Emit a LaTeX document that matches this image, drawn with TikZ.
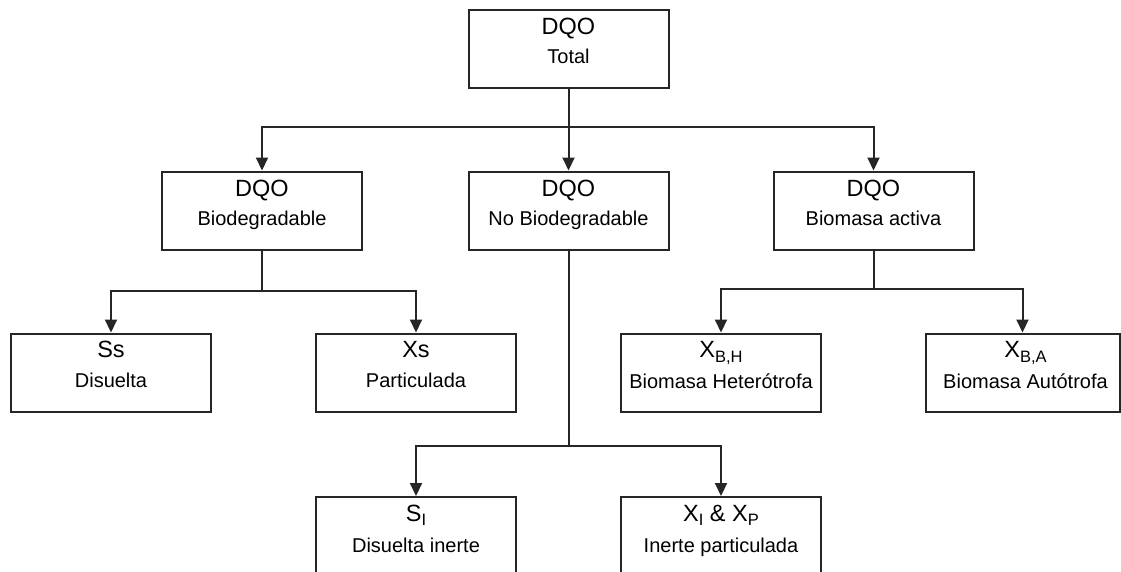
\documentclass[tikz,border=0pt]{standalone}
\usepackage{fontspec}
\setmainfont{Liberation Sans}
\usetikzlibrary{arrows.meta,calc}
\newcommand{\subtx}[1]{\raisebox{-4.5pt}{\fontsize{16.5}{16.5}\selectfont #1}}
\begin{document}
\begin{tikzpicture}[x=1pt,y=-1pt]
\tikzset{
  box/.style={draw=black!85, line width=2pt, minimum width=200pt, minimum height=78pt, inner sep=0pt, fill=white},
  bigtxt/.style={font=\fontsize{23.5}{23.5}\selectfont, anchor=base, inner sep=0pt, text=black},
  smalltxt/.style={font=\fontsize{20}{20}\selectfont, anchor=base, inner sep=0pt, text=black},
  link/.style={draw=black!85, line width=2pt},
  arr/.style={link, -{Triangle[length=13pt,width=12pt]}}
}
\useasboundingbox (0,0) rectangle (1121,571);
\clip (0,0) rectangle (1121,571);
\fill[white] (0,0) rectangle (1121,571);

% boxes
\node[box] (tot) at (568.5,48.5) {};
\node[box] (bio) at (262,210.5) {};
\node[box] (nob) at (568.5,210.5) {};
\node[box] (act) at (873.5,210.5) {};
\node[box] (ss)  at (111,372.5) {};
\node[box] (xs)  at (416,372.5) {};
\node[box] (xbh) at (721,372.5) {};
\node[box, minimum width=194pt] (xba) at (1022.5,372.5) {};
\node[box] (si)  at (416,536) {};
\node[box] (xi)  at (721,536) {};

% texts
\node[bigtxt]   (totA) at ($(tot.north)+(0,26)$) {DQO};
\node[smalltxt] (totB) at ($(tot.north)+(0,55)$) {Total};
\node[bigtxt]   (bioA) at ($(bio.north)+(0,26)$) {DQO};
\node[smalltxt] (bioB) at ($(bio.north)+(0,55)$) {Biodegradable};
\node[bigtxt]   (nobA) at ($(nob.north)+(0,26)$) {DQO};
\node[smalltxt] (nobB) at ($(nob.north)+(0,55)$) {No Biodegradable};
\node[bigtxt]   (actA) at ($(act.north)+(0,26)$) {DQO};
\node[smalltxt] (actB) at ($(act.north)+(0,55)$) {Biomasa activa};
\node[bigtxt]   (ssA) at ($(ss.north)+(0,25)$) {Ss};
\node[smalltxt] (ssB) at ($(ss.north)+(0,55)$) {Disuelta};
\node[bigtxt]   (xsA) at ($(xs.north)+(0,25)$) {Xs};
\node[smalltxt] (xsB) at ($(xs.north)+(0,55)$) {Particulada};
\node[bigtxt]   (xbhA) at ($(xbh.north)+(0,25)$) {X\subtx{B,H}};
\node[smalltxt] (xbhB) at ($(xbh.north)+(0,56)$) {Biomasa Heterótrofa};
\node[bigtxt]   (xbaA) at ($(xba.north)+(3,25)$) {X\subtx{B,A}};
\node[smalltxt] (xbaB) at ($(xba.north)+(3,56)$) {Biomasa Autótrofa};
\node[bigtxt]   (siA) at ($(si.north)+(0,25)$) {S\subtx{I}};
\node[smalltxt] (siB) at ($(si.north)+(0,56)$) {Disuelta inerte};
\node[bigtxt]   (xiA) at ($(xi.north)+(0,25)$) {X\subtx{I} \& X\subtx{P}};
\node[smalltxt] (xiB) at ($(xi.north)+(0,56)$) {Inerte particulada};

% connectors
\draw[link] (tot.south) -- ++(0,38) coordinate (j1);
\draw[arr] (j1) -| (bio.north);
\draw[arr] (j1) -- (nob.north);
\draw[arr] (j1) -| (act.north);

\draw[link] (bio.south) -- ++(0,40) coordinate (j2);
\draw[arr] (j2) -| (ss.north);
\draw[arr] (j2) -| (xs.north);

\draw[link] (nob.south) -- ++(0,195) coordinate (j3);
\draw[arr] (j3) -| (si.north);
\draw[arr] (j3) -| (xi.north);

\draw[link] (act.south) -- ++(0,38) coordinate (j4);
\draw[arr] (j4) -| (xbh.north);
\draw[arr] (j4) -| (xba.north);
\end{tikzpicture}
\end{document}
